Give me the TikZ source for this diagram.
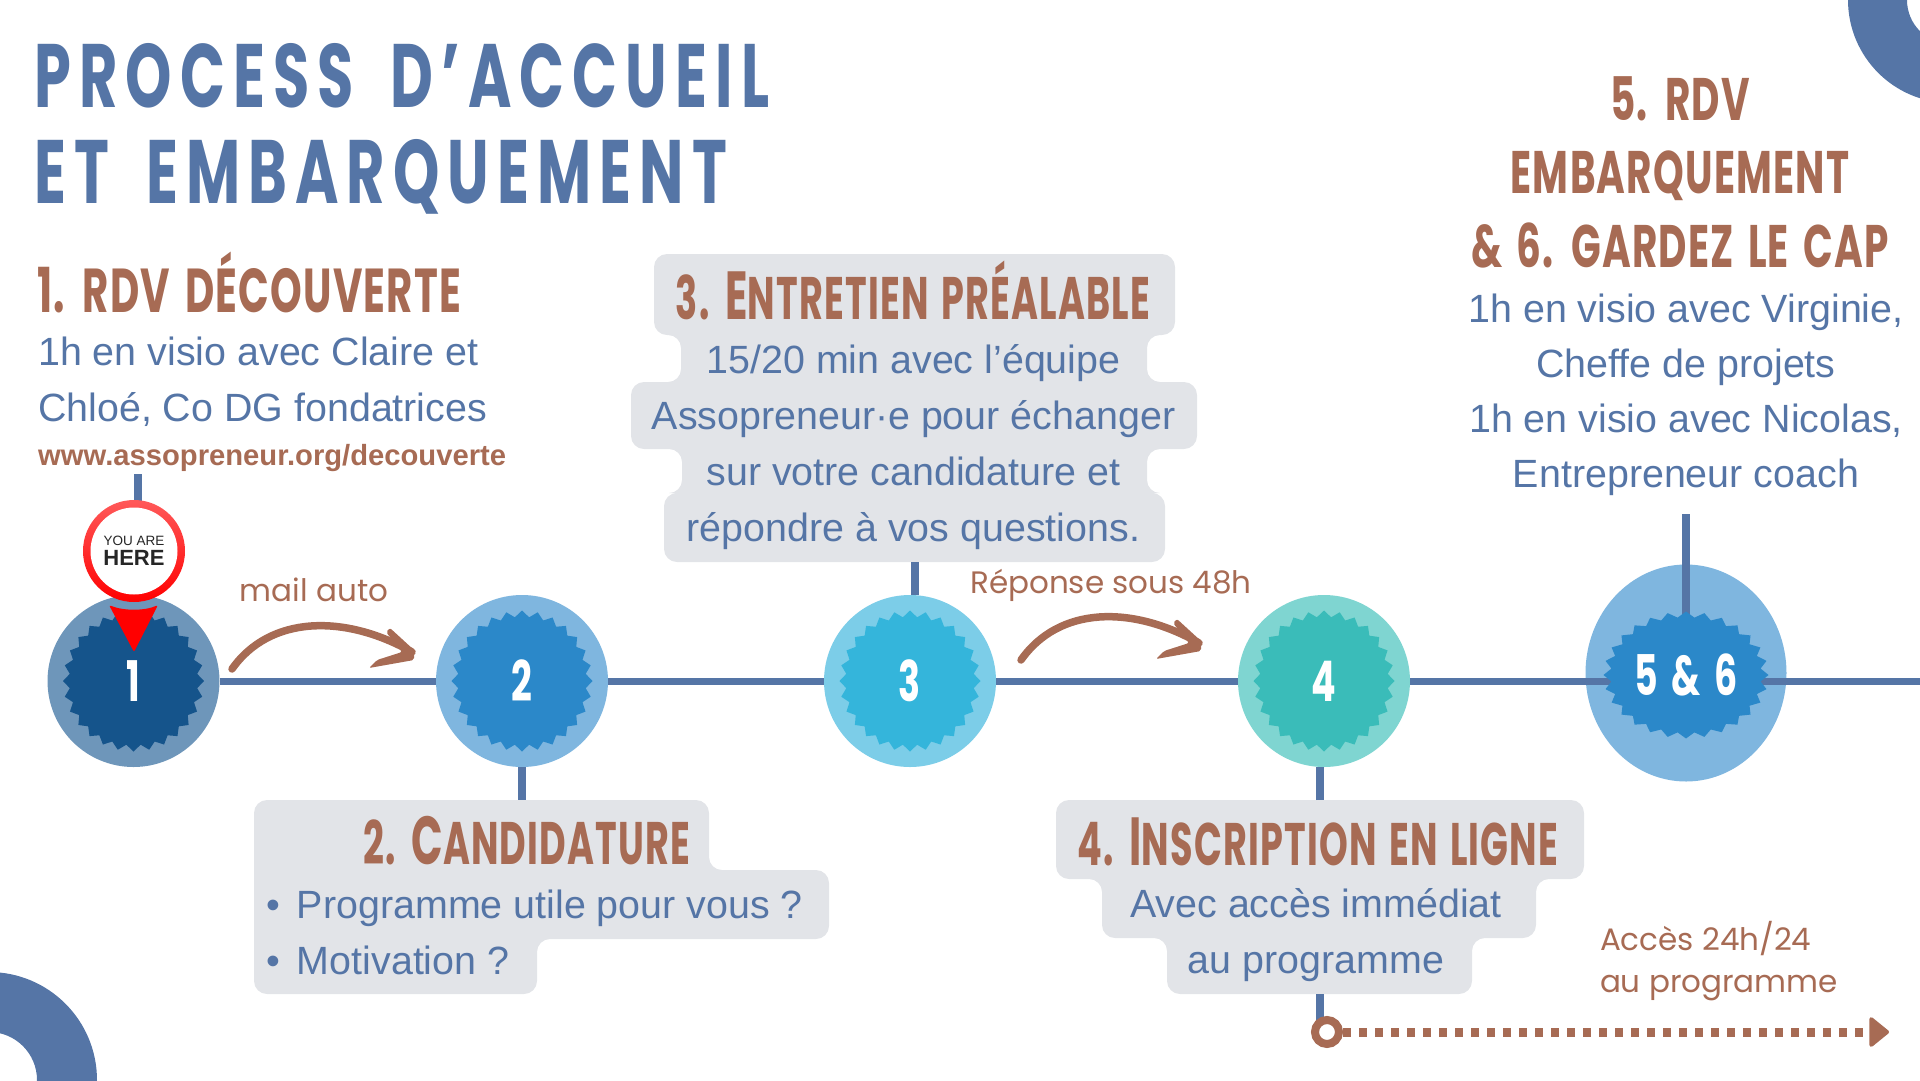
\documentclass[tikz,border=0pt]{standalone}
\usepackage{fontspec}
\usepackage{xcolor}
\usetikzlibrary{shapes.geometric,arrows.meta}
\setmainfont{Liberation Sans}
\newfontfamily\titlefont[FakeStretch=0.655,LetterSpace=9,WordSpace=1.8]{Poppins}
\newfontfamily\headfont[FakeStretch=0.65,LetterSpace=2,WordSpace=1.5]{Poppins}
\newfontfamily\boxheadfont[FakeStretch=0.61,LetterSpace=2,WordSpace=1.4]{Poppins}
\newfontfamily\notefont{Poppins}
\newcommand{\bigletter}[1]{{\fontsize{68}{68}\selectfont #1}}
\definecolor{cblue}{HTML}{5575A6}
\definecolor{cbrown}{HTML}{A76B54}
\definecolor{cgray}{HTML}{E2E4E8}
\definecolor{bubonecol}{HTML}{6E96BA}
\definecolor{burstonecol}{HTML}{15548B}
\definecolor{bubtwocol}{HTML}{7FB6DF}
\definecolor{bursttwocol}{HTML}{2B88C9}
\definecolor{bubthreecol}{HTML}{7CCDE8}
\definecolor{burstthreecol}{HTML}{34B5DB}
\definecolor{bubfourcol}{HTML}{7FD5D1}
\definecolor{burstfourcol}{HTML}{3ABCB9}
\tikzset{
  bubble/.style={circle,minimum size=172pt,inner sep=0pt},
  burst/.style={star,star points=28,star point ratio=1.1,minimum size=141pt,inner sep=0pt,text=white,font=\fontsize{56}{56}\headfont\bfseries},
  mainline/.style={cblue,line width=7pt,yshift=1pt},
  stem/.style={cblue,line width=8pt},
  boxshape/.style={fill=cgray,rounded corners=13pt},
  titletext/.style={text=cblue,anchor=west,inner sep=0pt,align=left,font=\fontsize{90}{95.5}\titlefont\bfseries},
  headtext/.style={text=cbrown,inner sep=0pt,align=center,font=\fontsize{60}{73.5}\headfont\bfseries},
  boxhead/.style={text=cbrown,inner sep=0pt,align=center,font=\fontsize{60}{73.5}\boxheadfont\bfseries},
  bodytext/.style={text=cblue,inner sep=0pt,align=center,font=\fontsize{39.4}{56}\selectfont},
  notetext/.style={text=cbrown,inner sep=0pt,align=left,font=\fontsize{31}{42}\notefont},
  handline/.style={cbrown,line width=7.5pt,line cap=round,line join=round},
}
\begin{document}
\begin{tikzpicture}[x=1pt,y=-1pt]
\useasboundingbox (0,0) rectangle (1920,1080);
% corners
\fill[cblue,even odd rule] (1951,0) circle (103) (1951,0) circle (44);
\fill[cblue,even odd rule] (-11,1080) circle (108) (-11,1080) circle (48);
% grey boxes
\fill[boxshape] (654,254) -- (1175,254) -- (1175,335) -- (1147,335) -- (1147,382) -- (1197,382) -- (1197,449) -- (1147,449) -- (1147,493) -- (1165,493) -- (1165,562) -- (664,562) -- (664,493) -- (682,493) -- (682,449) -- (631,449) -- (631,382) -- (681,382) -- (681,335) -- (654,335) -- cycle;
\fill[boxshape] (254,800) -- (709,800) -- (709,870) -- (829,870) -- (829,939) -- (537,939) -- (537,994) -- (254,994) -- cycle;
\fill[boxshape] (1056,800) -- (1584,800) -- (1584,879) -- (1536,879) -- (1536,938) -- (1472,938) -- (1472,994) -- (1167,994) -- (1167,938) -- (1102,938) -- (1102,879) -- (1056,879) -- cycle;
% free ends of the lines
\coordinate (pinfoot) at (138,474);
\coordinate (boxtwotop) at (522,800);
\coordinate (boxthreefoot) at (914.5,562);
\coordinate (boxfourtop) at (1319.5,800);
\coordinate (boxfourfoot) at (1319.5,994);
\coordinate (textfivefoot) at (1686,514);
\coordinate (lineend) at (1920,681);
\coordinate (dotend) at (1889,1032);
% bubbles
\node[bubble,fill=bubonecol] (bubone) at (133.5,681) {};
\node[bubble,fill=bubtwocol] (bubtwo) at (522,681) {};
\node[bubble,fill=bubthreecol] (bubthree) at (910,681) {};
\node[bubble,fill=bubfourcol] (bubfour) at (1324,681) {};
\node[ellipse,minimum width=201pt,minimum height=217pt,inner sep=0pt,fill=bubtwocol] (bubfive) at (1686,673) {};
% timeline
\draw[mainline] (bubone) -- (bubtwo);
\draw[mainline] (bubtwo) -- (bubthree);
\draw[mainline] (bubthree) -- (bubfour);
\draw[mainline] (bubfour) -- (lineend);
\draw[stem] (pinfoot) -- (pinfoot |- bubone.north);
\draw[stem] (bubtwo) -- (boxtwotop);
\draw[stem] (boxthreefoot) -- (boxthreefoot |- bubthree.north);
\draw[stem] (boxfourtop) -- (boxfourtop |- bubfour.south);
\draw[stem] (textfivefoot) -- (textfivefoot |- 0,620);
\draw[stem] (boxfourfoot) -- (boxfourfoot |- dotend);
% bursts
\node[burst,fill=burstonecol] (burstone) at (bubone) {1};
\node[burst,fill=bursttwocol] (bursttwo) at (bubtwo) {2};
\node[burst,fill=burstthreecol] (burstthree) at (bubthree) {3};
\node[burst,fill=burstfourcol] (burstfour) at (bubfour) {4};
\node[burst,fill=bursttwocol,minimum size=127pt,xscale=1.3] (burstfive) at (1686,675) {};
\node[burst,minimum size=0pt,star point ratio=1,draw=none] (numfive) at (1686,675) {5 \& 6};
% you are here
\node[circle,minimum size=102pt,inner sep=0pt,top color=red!65!white,bottom color=red] (pinring) at (134,551) {};
\node[circle,minimum size=87pt,inner sep=0pt,fill=white,align=center,text=black!85,font=\fontsize{13.5}{16}\selectfont] (pintext) at (pinring) {YOU ARE\\[4pt]{\fontsize{22}{22}\selectfont\bfseries HERE}};
\fill[red,rounded corners=2pt] (109,605) .. controls (123,611) and (145,611) .. (158,605) -- (134,652) -- cycle;
% texts
\node[titletext] (title) at (34,129) {PROCESS D’ACCUEIL\\ET EMBARQUEMENT};
\node[headtext,anchor=west,font=\fontsize{62}{62}\headfont\bfseries] (headone) at (37,282) {1. RDV DÉCOUVERTE};
\node[bodytext,anchor=west,align=left] (textone) at (38,382) {1h en visio avec Claire et\\Chloé, Co DG fondatrices};
\node[anchor=west,inner sep=0pt,text=cbrown,font=\fontsize{29.2}{30}\selectfont\bfseries] (linkone) at (38,458) {www.assopreneur.org/decouverte};
\node[boxhead] (headtwo) at (527,841) {2. \bigletter{C}ANDIDATURE};
\node[bodytext,anchor=west,align=left] (texttwo) at (266,932) {\textbullet\hspace{17pt}Programme utile pour vous ?\\\textbullet\hspace{17pt}Motivation ?};
\node[boxhead] (headthree) at (913,290) {3. \bigletter{E}NTRETIEN PRÉALABLE};
\node[bodytext] (textthree) at (913.5,447) {15/20 min avec l’équipe\\Assopreneur·e pour échanger\\sur votre candidature et\\répondre à vos questions.};
\node[boxhead] (headfour) at (1318,842) {4. \bigletter{I}NSCRIPTION EN LIGNE};
\node[bodytext] (textfour) at (1316,935) {Avec accès immédiat\\au programme};
\node[headtext] (headfive) at (1680,172) {5. RDV\\EMBARQUEMENT\\\& 6. GARDEZ LE CAP};
\node[bodytext,font=\fontsize{39.4}{55}\selectfont] (textfive) at (1686,395) {1h en visio avec Virginie,\\Cheffe de projets\\1h en visio avec Nicolas,\\Entrepreneur coach};
\node[notetext] (notemail) at (314,590) {mail auto};
\node[notetext] (notereply) at (1111,585) {Réponse sous 48h};
\node[notetext] (noteaccess) at (1719,961) {Accès 24h/24\\au programme};
% hand drawn arrows
\coordinate (mailfrom) at (232,669);
\coordinate (mailto) at (412,652);
\coordinate (replyfrom) at (1021,660);
\coordinate (replyto) at (1199,643);
\foreach \from/\to in {mailfrom/mailto,replyfrom/replyto}{
  \draw[handline] (\from) .. controls +(38,-54) and +(-67,-38) .. (\to);
  \fill[cbrown,rounded corners=2pt] (\to) ++(-22,-24) -- ++(24,22) -- ++(0,10) -- ++(-45,8) -- ++(8,-8) -- ++(25,-8) -- ++(-16,-20) -- cycle;
}
% access arrow
\node[circle,minimum size=24pt,inner sep=0pt,draw=cbrown,line width=8pt,fill=white] (startring) at (1327,1032) {};
\draw[cbrown,line width=9pt,dash pattern=on 8pt off 8pt,-{Triangle[length=21pt,width=33pt,round,line width=4pt]}] (startring) -- (dotend);
\end{tikzpicture}
\end{document}
